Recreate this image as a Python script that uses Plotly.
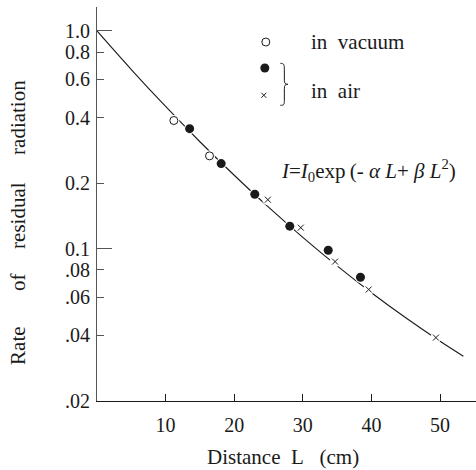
import plotly.graph_objects as go

# ---- data ----
vac_L = [11.2, 16.4]
vac_I = [0.388, 0.267]

air_dot_L = [13.5, 18.1, 23.0, 28.1, 33.7, 38.4]
air_dot_I = [0.356, 0.246, 0.178, 0.127, 0.0984, 0.0740]

air_x_L = [24.9, 29.7, 34.7, 39.6, 49.4]
air_x_I = [0.168, 0.125, 0.0873, 0.0650, 0.0391]

curve_L = [0, 5, 10, 15, 20, 25, 30, 35, 40, 45, 50, 53.4]
curve_I = [1.0, 0.665, 0.450, 0.310, 0.2175, 0.1552, 0.1128, 0.0834, 0.0628, 0.0482, 0.0376, 0.0321]

x_ticks = [10, 20, 30, 40, 50]
y_ticks = [0.02, 0.04, 0.06, 0.08, 0.1, 0.2, 0.4, 0.6, 0.8, 1.0]
y_ticktext = [".02", ".04", ".06", ".08", "0.1", "0.2", "0.4", "0.6", "0.8", "1.0"]
y_major = [0.1, 1.0]

FONT = "Liberation Serif"
INK = "#1a1a1a"

W, H = 476, 470
L_M, R_M, T_M, B_M = 97.3, 0, 6.7, 69.3
PW, PH = W - L_M - R_M, H - T_M - B_M

def px(x):
    return (x - L_M) / PW

def py(y):
    return (H - B_M - y) / PH

fig = go.Figure()

# fitted curve
fig.add_trace(go.Scatter(x=curve_L, y=curve_I, mode="lines", line=dict(color=INK, width=1.1, shape="spline"),
                         hoverinfo="skip", showlegend=False))
# white halos that break the curve near the points
fig.add_trace(go.Scatter(x=vac_L + air_dot_L + air_x_L, y=vac_I + air_dot_I + air_x_I, mode="markers",
                         marker=dict(symbol="circle", size=11, color="white"), hoverinfo="skip", showlegend=False))
fig.add_trace(go.Scatter(x=vac_L, y=vac_I, mode="markers", name="in vacuum",
                         marker=dict(symbol="circle", size=8, color="white", line=dict(color=INK, width=1)),
                         showlegend=False))
fig.add_trace(go.Scatter(x=air_dot_L, y=air_dot_I, mode="markers", name="in air",
                         marker=dict(symbol="circle", size=9, color=INK), showlegend=False))
fig.add_trace(go.Scatter(x=air_x_L, y=air_x_I, mode="markers", name="in air",
                         marker=dict(symbol="x-thin", size=6, line=dict(color=INK, width=1)), showlegend=False))

# legend keys drawn on a pixel overlay axis
fig.add_trace(go.Scatter(x=[266], y=[41.7], xaxis="x2", yaxis="y2", mode="markers",
                         marker=dict(symbol="circle", size=8, color="white", line=dict(color=INK, width=1)),
                         hoverinfo="skip", showlegend=False))
fig.add_trace(go.Scatter(x=[265], y=[67.7], xaxis="x2", yaxis="y2", mode="markers",
                         marker=dict(symbol="circle", size=9, color=INK), hoverinfo="skip", showlegend=False))
fig.add_trace(go.Scatter(x=[264], y=[95], xaxis="x2", yaxis="y2", mode="markers",
                         marker=dict(symbol="x-thin", size=5, line=dict(color=INK, width=1)),
                         hoverinfo="skip", showlegend=False))

fig.add_shape(type="path", xref="x2", yref="y2",
              path="M 280.5,63 C 284.5,63 284.5,65 284.5,69 L 284.5,80 C 284.5,83 285.5,84 288,84 "
                   "C 285.5,84 284.5,85 284.5,88 L 284.5,100 C 284.5,104 284.5,105 280.5,105",
              line=dict(color=INK, width=1))

ann = []
def txt(x, y, s, size=20, xanchor="left", angle=0):
    ann.append(dict(x=px(x), y=py(y), xref="paper", yref="paper", text=s, showarrow=False, xanchor=xanchor,
                    yanchor="middle", textangle=angle, font=dict(family=FONT, size=size, color=INK)))

txt(309, 42, "in\u00a0\u00a0vacuum", 21)
txt(309, 91, "in\u00a0\u00a0air", 21)
txt(279, 170, "<i>I</i>=<i>I</i><sub>0</sub>exp\u2009(-\u00a0<i>\u03b1\u00a0L</i>+\u00a0<i>\u03b2\u00a0L</i><sup>2</sup>)", 21)
txt(283.3, 456.5, "Distance\u00a0\u00a0L\u00a0\u00a0\u00a0(cm)", 21, xanchor="center")
for word, yc in [("radiation", 117), ("residual", 215), ("of", 282), ("Rate", 346)]:
    txt(19, yc, word, 21, xanchor="center", angle=-90)

fig.update_layout(
    width=W, height=H,
    margin=dict(l=L_M, r=R_M, t=T_M, b=B_M, pad=0),
    paper_bgcolor="white", plot_bgcolor="white",
    font=dict(family=FONT, size=20, color=INK),
    annotations=ann,
    xaxis=dict(range=[0, 55.24], showgrid=False, zeroline=False, showline=True, linecolor=INK, linewidth=1,
               ticks="inside", ticklen=7, tickwidth=1, tickcolor=INK, tickvals=x_ticks,
               tickfont=dict(family=FONT, size=20, color=INK), ticklabelstandoff=6),
    yaxis=dict(type="log", range=[-1.69897, 0.110], showgrid=False, zeroline=False, showline=True,
               linecolor="#555", linewidth=1, ticks="inside", ticklen=7, tickwidth=1, tickcolor="#555",
               tickvals=y_ticks, ticktext=y_ticktext, tickfont=dict(family=FONT, size=20, color=INK),
               ticklabelstandoff=2,
               minor=dict(ticks="inside", tickmode="array", tickvals=y_major, ticklen=15, tickcolor="#555",
                          tickwidth=1, showgrid=False)),
    xaxis2=dict(range=[L_M, W - R_M], overlaying="x", visible=False, fixedrange=True),
    yaxis2=dict(range=[H - B_M, T_M], overlaying="y", visible=False, fixedrange=True),
)

fig.write_html("out.html", config={"displayModeBar": False},
               post_script="document.body.style.margin='0';document.body.style.overflow='hidden';")
